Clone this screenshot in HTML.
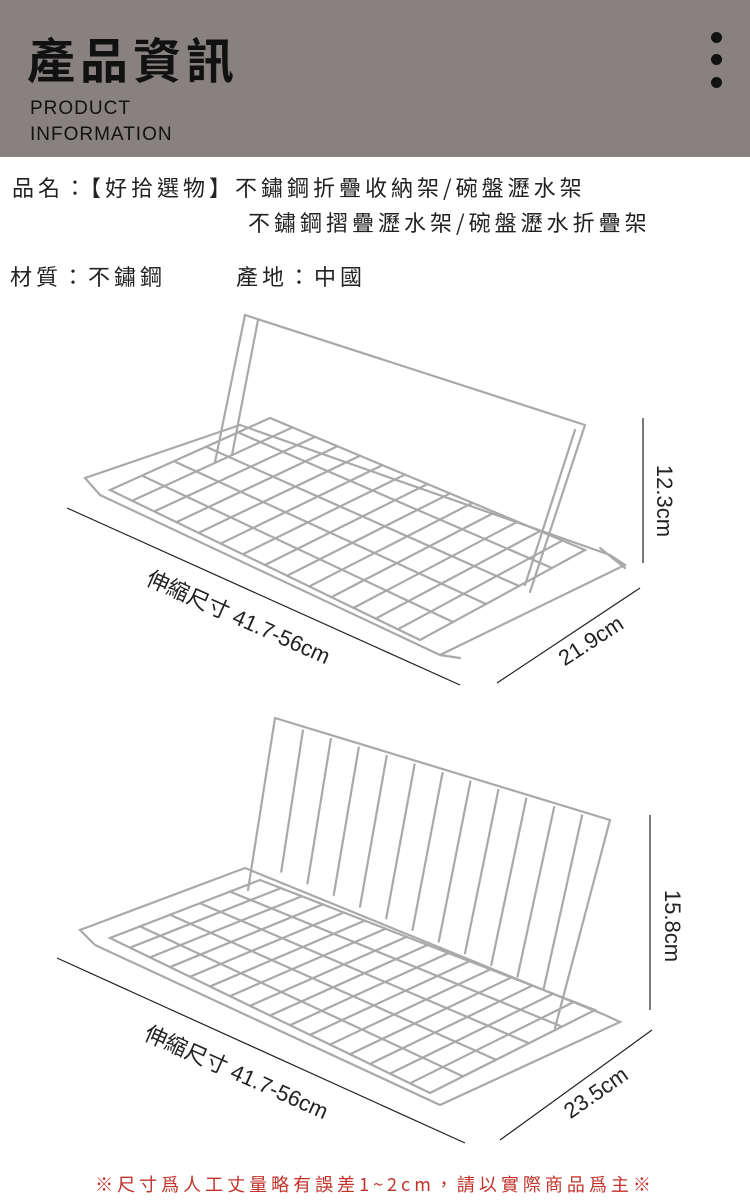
<!DOCTYPE html>
<html><head><meta charset="utf-8"><style>
body{margin:0;width:750px;height:1200px;background:#fff;position:relative;overflow:hidden;font-family:"Noto Sans CJK TC","Liberation Sans",sans-serif;}
.hd{position:absolute;left:0;top:0;width:750px;height:157px;background:#878280;}
.t{position:absolute;left:27px;top:25px;font-size:48px;font-weight:bold;letter-spacing:5px;color:#111;line-height:64px;}
.en{position:absolute;left:30px;top:96px;font-family:"Liberation Sans",sans-serif;font-size:19px;line-height:26px;color:#111;letter-spacing:1px;}
.dot{position:absolute;left:711px;width:11px;height:11px;border-radius:50%;background:#111;}
.tx{position:absolute;font-size:22px;color:#222;line-height:30px;white-space:nowrap;letter-spacing:4px;}
.lab{position:absolute;font-size:22px;color:#222;white-space:nowrap;transform-origin:center;font-family:"Liberation Sans","Noto Sans CJK TC",sans-serif;}
.ft{position:absolute;left:0;width:750px;text-align:center;top:1171px;font-size:18px;color:#c2332a;letter-spacing:4px;}
</style></head><body>
<div class="hd"></div>
<div class="t">產品資訊</div>
<div class="en">PRODUCT<br>INFORMATION</div>
<div class="dot" style="top:32px"></div><div class="dot" style="top:54px"></div><div class="dot" style="top:77px"></div>
<div class="tx" style="left:12px;top:172px">品名：【好拾選物】不鏽鋼折疊收納架/碗盤瀝水架</div>
<div class="tx" style="left:248px;top:207px">不鏽鋼摺疊瀝水架/碗盤瀝水折疊架</div>
<div class="tx" style="left:10px;top:261px">材質：不鏽鋼</div>
<div class="tx" style="left:236px;top:261px">產地：中國</div>
<svg id="s" width="750" height="1200" style="position:absolute;left:0;top:0">
<g stroke="#222" stroke-width="1.2">
<line x1="67" y1="508" x2="460" y2="685"/><line x1="497" y1="683" x2="640" y2="588"/><line x1="643" y1="418" x2="643" y2="563"/>
<line x1="57" y1="958" x2="465" y2="1143"/><line x1="500" y1="1140" x2="652" y2="1030"/><line x1="650" y1="815" x2="650" y2="1010"/>
</g>
<g id="r" fill="none" stroke="#a9a9a9" stroke-width="2.2" stroke-linecap="round"></g>
</svg>
<div class="lab" style="left:140px;top:600px;transform:rotate(24deg)">伸縮尺寸 41.7-56cm</div>
<div class="lab" style="left:555px;top:628px;transform:rotate(-33deg)">21.9cm</div>
<div class="lab" style="left:628px;top:488px;transform:rotate(90deg)">12.3cm</div>
<div class="lab" style="left:138px;top:1055px;transform:rotate(24deg)">伸縮尺寸 41.7-56cm</div>
<div class="lab" style="left:560px;top:1080px;transform:rotate(-35deg)">23.5cm</div>
<div class="lab" style="left:636px;top:913px;transform:rotate(90deg)">15.8cm</div>
<div class="ft">※尺寸爲人工丈量略有誤差1~2cm，請以實際商品爲主※</div>
<script>
var g=document.getElementById('r'),o='';
function L(a,b,c,d){o+='<line x1="'+a+'" y1="'+b+'" x2="'+c+'" y2="'+d+'"/>';}
function P(p){o+='<polygon points="'+p.map(function(q){return q.join(',')}).join(' ')+'"/>';}
function lerp(a,b,t){return [a[0]+(b[0]-a[0])*t,a[1]+(b[1]-a[1])*t];}
function plate(A,B,C,D,n,m){P([A,B,C,D]);for(var i=1;i<n;i++){var t=i/n,p=lerp(A,B,t),q=lerp(D,C,t);L(p[0],p[1],q[0],q[1]);}for(var j=1;j<m;j++){var t=j/m,p=lerp(A,D,t),q=lerp(B,C,t);L(p[0],p[1],q[0],q[1]);}}
P([[85,478],[240,425],[610,555],[625,565],[440,655],[100,495]]);
plate([110,490],[420,640],[585,550],[270,418],14,5);
L(245,315,585,425);L(245,315,215,462);L(585,425,530,592);L(258,320,232,455);L(575,430,525,585);
L(600,548,625,568);L(440,655,460,658);
P([[80,930],[245,868],[605,1015],[620,1022],[440,1105],[95,945]]);
plate([110,938],[430,1093],[595,1010],[260,880],16,5);
L(275,718,610,820);L(275,718,248,890);L(610,820,555,1028);
for(var k=1;k<12;k++){var t=k/12,p=lerp([275,718],[610,820],t),q=lerp([255,860],[570,1000],t);L(p[0],p[1]+4,q[0],q[1]);}
g.innerHTML=o;
</script>
</body></html>
